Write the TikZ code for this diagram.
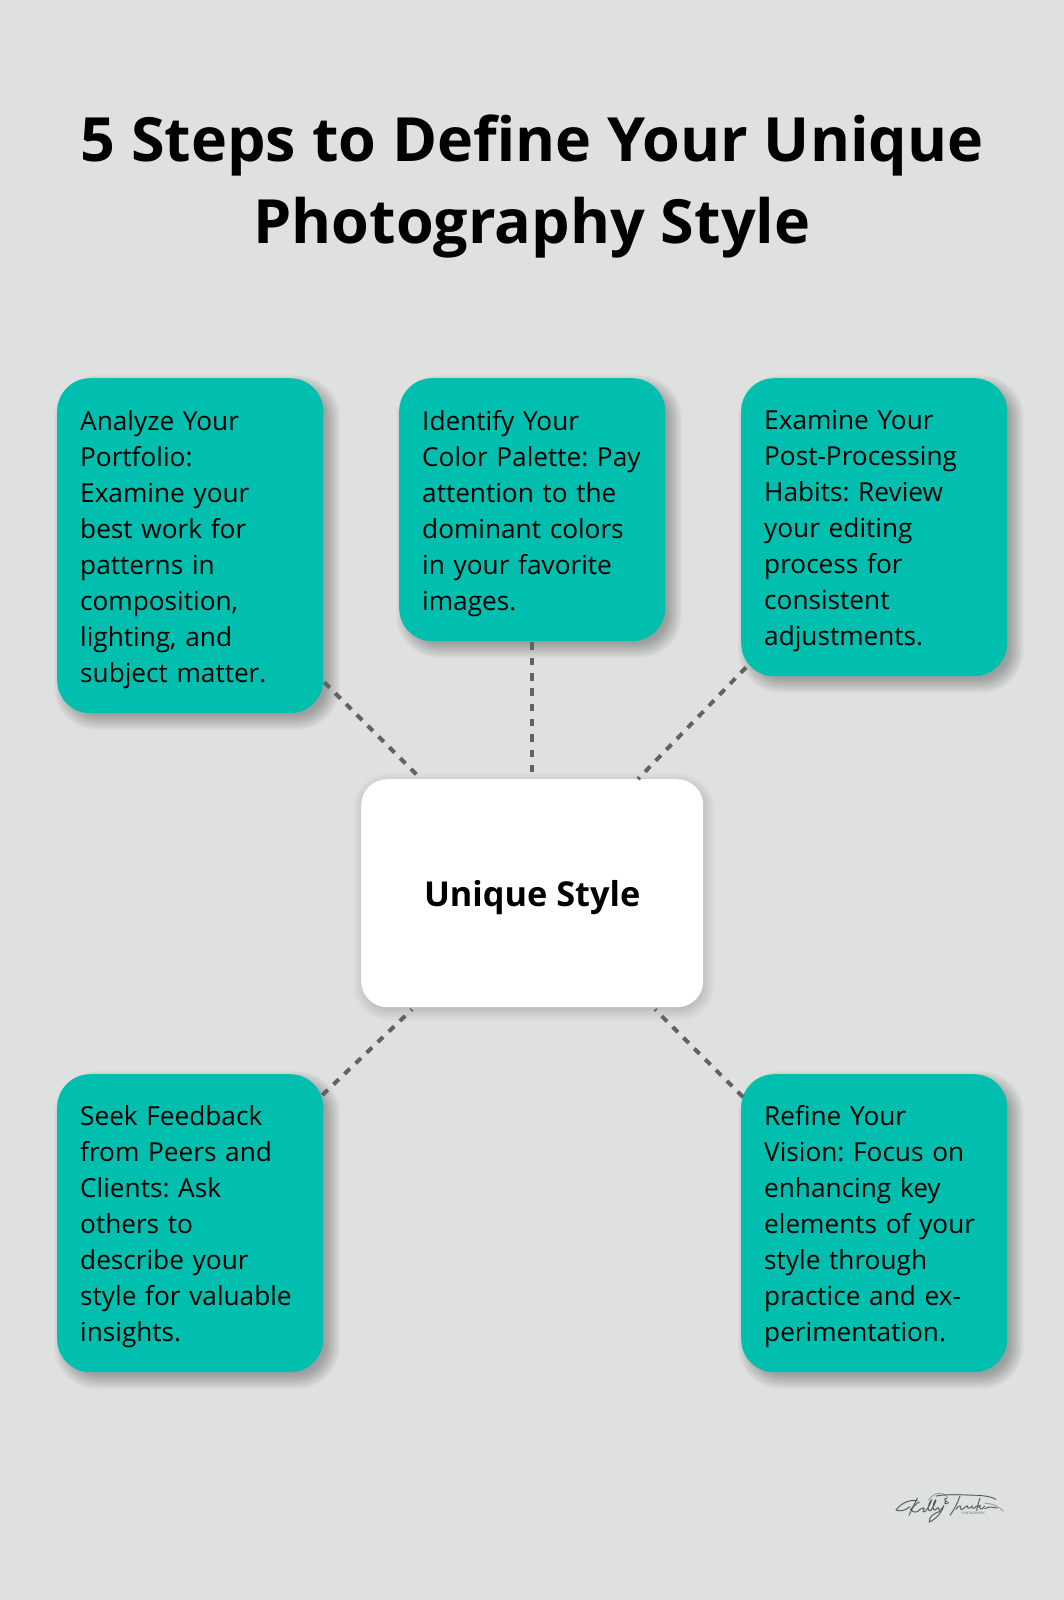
\documentclass[tikz,border=0pt]{standalone}
\usepackage{fontspec}
\setmainfont{Open Sans}
\usetikzlibrary{calc}
\definecolor{bgc}{HTML}{DFE1E0}
\definecolor{tealc}{HTML}{00BFAE}
\definecolor{dashc}{HTML}{5F6362}
\definecolor{sigc}{HTML}{465553}
\tikzset{
 cardbase/.style={rounded corners=33pt,fill=tealc,text=black,inner sep=0pt,anchor=north west,
   minimum width=266pt},
 cardtext/.style={font=\fontsize{26.2}{36}\selectfont,align=left,text width=220pt,inner xsep=23pt,
   execute at begin node={\rule{0pt}{32pt}},execute at end node={\rule[-11pt]{0pt}{11pt}}},
 centerbox/.style={rounded corners=26pt,fill=white,text=black,inner sep=0pt,anchor=north west,
   minimum width=342pt,minimum height=228pt,text depth=0pt,
   font=\fontsize{34.3}{40}\selectfont\bfseries},
 link/.style={draw=dashc,line width=4pt,dash pattern=on 7.5pt off 7.8pt},
 sig/.style={draw=sigc,line width=.7pt,line cap=round,
   preaction={draw=sigc,draw opacity=.2,line width=1.6pt}},
 sigfaint/.style={draw=black!30!bgc,line width=.9pt,line cap=round},
}
% soft shadow: stacked translucent rounded boxes
% args: x0, y0, x1, y1, x offset, y offset, radius, opacity
\newcommand{\softshade}[8]{%
  \foreach \grow in {-5,-3.75,...,10}{%
    \pgfmathsetmacro{\rad}{#7+\grow}%
    \fill[black,fill opacity=#8,rounded corners=\rad pt]
      ({#1+#5-\grow},{#2+#6-\grow}) rectangle ({#3+#5+\grow},{#4+#6+\grow});
  }%
}
\begin{document}
\frenchspacing
\begin{tikzpicture}[x=1pt,y=-1pt]
\useasboundingbox[fill=bgc] (0,0) rectangle (1064,1600);
\node (title) at (532,186) [font=\fontsize{61}{82}\selectfont\bfseries,align=center] {5 Steps to Define Your Unique\\Photography Style};
\softshade{57}{378}{323}{713}{7}{7}{33}{.022}
\softshade{399}{378}{665}{641}{7}{7}{33}{.022}
\softshade{741}{378}{1007}{676}{7}{7}{33}{.022}
\softshade{57}{1074}{323}{1372}{7}{7}{33}{.022}
\softshade{741}{1074}{1007}{1372}{7}{7}{33}{.022}
\softshade{361}{779}{703}{1007}{2}{4}{26}{.012}
\node[cardbase,cardtext,minimum height=335pt] (a) at (57,378) {Analyze Your\\Portfolio:\\Examine your\\best work for\\patterns in\\composition,\\lighting, and\\subject matter.};
\node[cardbase,cardtext,minimum height=263pt] (b) at (399,378) {Identify Your\\Color Palette: Pay\\attention to the\\dominant colors\\in your favorite\\images.};
\node[cardbase,cardtext,minimum height=298pt] (c) at (741,378) {Examine Your\\Post-Processing\\Habits: Review\\your editing\\process for\\consistent\\adjustments.};
\node[cardbase,cardtext,minimum height=298pt] (d) at (57,1074) {Seek Feedback\\from Peers and\\Clients: Ask\\others to\\describe your\\style for valuable\\insights.};
\node[cardbase,cardtext,minimum height=298pt] (e) at (741,1074) {Refine Your\\Vision: Focus on\\enhancing key\\elements of your\\style through\\practice and ex-\\perimentation.};
\node[centerbox] (u) at (361,779) {Unique Style};
\coordinate (aout) at ($(a.south east)+(1,-31)$);
\coordinate (bout) at ($(b.south)+(0,1)$);
\coordinate (cout) at ($(c.south west)+(5,-9)$);
\coordinate (dout) at ($(d.north east)+(-1,21)$);
\coordinate (eout) at ($(e.north west)+(2,23)$);
\coordinate (uina) at ($(u.north west)+(60,0)$);
\coordinate (uinb) at (u.north);
\coordinate (uinc) at ($(u.north west)+(277,0)$);
\coordinate (uind) at ($(u.south west)+(51,2)$);
\coordinate (uine) at ($(u.south west)+(294,2)$);
\draw[link] (aout) -- (uina);
\draw[link] (bout) -- (uinb);
\draw[link] (cout) -- (uinc);
\draw[link] (dout) -- (uind);
\draw[link] (eout) -- (uine);
% signature, in zoom-crop units (3 per pixel)
\begin{scope}[shift={(860,1470)},x=.3333pt,y=-.3333pt]
\draw[sigfaint] (205,90) .. controls (225,65) and (245,65) .. (262,80);
\draw[sigfaint] (375,100) .. controls (400,100) and (420,112) .. (430,124);
% K
\draw[sig] (108,120) .. controls (125,98) and (150,88) .. (172,92);
\draw[sig] (108,120) .. controls (120,125) and (135,122) .. (150,110);
\draw[sig] (172,84) .. controls (165,100) and (155,118) .. (147,136);
\draw[sig] (152,118) .. controls (160,110) and (170,100) .. (178,96);
\draw[sig] (152,118) .. controls (160,128) and (170,130) .. (180,118);
% elly
\draw[sig] (180,118) .. controls (190,112) and (196,112) .. (190,120) .. controls (186,128) and (196,128) .. (202,116) .. controls (212,100) and (218,85) .. (212,92) .. controls (204,105) and (200,125) .. (212,122) .. controls (222,108) and (232,85) .. (226,90) .. controls (218,102) and (216,124) .. (226,120);
\draw[sig] (226,120) .. controls (232,112) and (238,110) .. (236,118) .. controls (238,124) and (246,118) .. (252,106) .. controls (246,125) and (232,145) .. (208,156) .. controls (205,140) and (225,128) .. (240,124);
% ampersand
\draw[sig] (262,84) .. controls (252,84) and (252,92) .. (260,94) .. controls (250,98) and (254,106) .. (266,98);
% T
\draw[sig] (228,78) .. controls (260,72) and (300,74) .. (345,76) .. controls (370,76) and (395,80) .. (408,88);
\draw[sig] (300,78) .. controls (292,100) and (282,120) .. (270,136);
% anerki
\draw[sig] (288,118) .. controls (296,104) and (306,106) .. (302,118) .. controls (310,122) and (316,106) .. (322,108) .. controls (322,118) and (330,116) .. (336,108) .. controls (336,118) and (344,116) .. (350,108);
\draw[sig] (360,84) .. controls (356,96) and (352,108) .. (350,122);
\draw[sig] (352,110) .. controls (360,104) and (364,106) .. (358,112) .. controls (362,120) and (368,118) .. (374,108);
\draw[sig] (374,116) .. controls (390,108) and (400,112) .. (412,114);
\node[font=\fontsize{3.2}{4}\selectfont,text=black!55!bgc,inner sep=0pt] (photo) at (340,130) {PHOTOGRAPHY};
\end{scope}
\end{tikzpicture}
\end{document}
